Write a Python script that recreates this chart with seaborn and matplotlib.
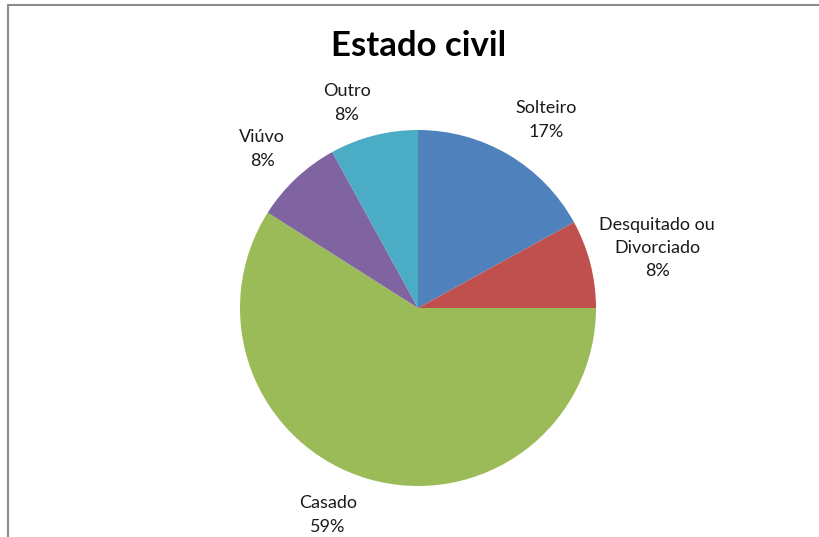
import matplotlib
matplotlib.use("Agg")
import matplotlib.pyplot as plt
from matplotlib.lines import Line2D
import seaborn as sns

# Marital status distribution (percent)
categories = ["Solteiro", "Desquitado ou\nDivorciado", "Casado", "Viúvo", "Outro"]
shares = [17, 8, 59, 8, 8]
colors = ["#4F81BD", "#C0504D", "#9BBB59", "#8064A2", "#4BACC6"]

# Label anchor points (data units, pie radius = 1)
label_xy = [(0.72, 1.056), (1.343, 0.337), (-0.506, -1.163), (-0.876, 0.893), (-0.399, 1.152)]

sns.set_theme(style="white")
plt.rcParams["font.family"] = ["Lato", "DejaVu Sans"]

W, H = 819, 537
fig = plt.figure(figsize=(W / 100, H / 100), dpi=100)
fig.patch.set_facecolor("white")

cx, cy, r = 418, 308, 178
half = 200
ax = fig.add_axes([(cx - half) / W, (H - cy - half) / H, 2 * half / W, 2 * half / H])
palette = sns.color_palette(colors)
wedges, _ = ax.pie(shares, colors=palette, startangle=90, counterclock=False,
                   radius=1, wedgeprops=dict(linewidth=0))
lim = half / r
ax.set_xlim(-lim, lim)
ax.set_ylim(-lim, lim)
ax.set_aspect("equal")
ax.axis("off")

for name, val, (lx, ly) in zip(categories, shares, label_xy):
    ax.text(lx, ly, f"{name}\n{val}%", ha="center", va="center", multialignment="center",
            fontsize=13, color="#1a1a1a", linespacing=1.55, clip_on=False)

fig.text(419 / W, 1 - 46 / H, "Estado civil", ha="center", va="center",
         fontsize=25, fontweight="bold", color="black")

# Chart frame (top and left edges)
fig.add_artist(Line2D([8 / W, 1], [1 - 4.5 / H, 1 - 4.5 / H], transform=fig.transFigure,
                      color="#8c8c8c", lw=1.5))
fig.add_artist(Line2D([8 / W, 8 / W], [0, 1 - 4.5 / H], transform=fig.transFigure,
                      color="#8c8c8c", lw=1.5))

fig.savefig("out.png", dpi=100, facecolor="white")
